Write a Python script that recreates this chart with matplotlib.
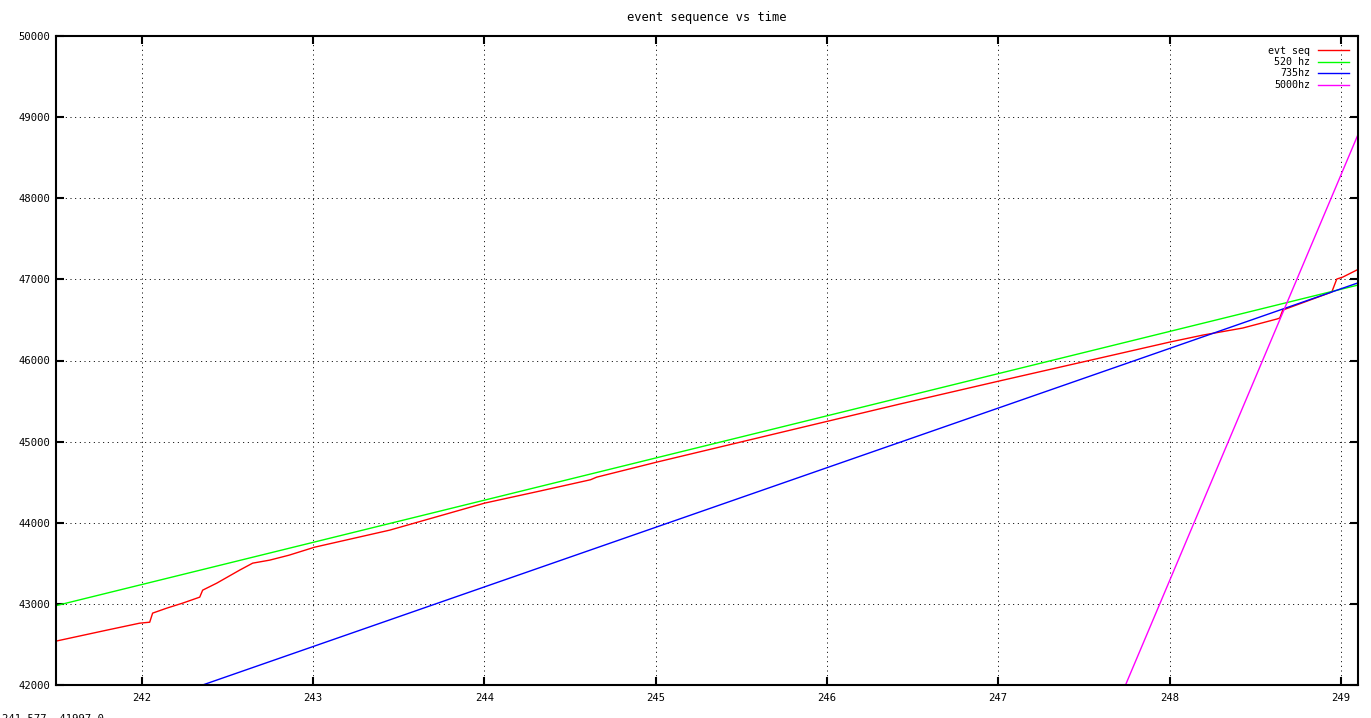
import matplotlib
matplotlib.use("Agg")
import matplotlib.pyplot as plt

# event sequence (time, sequence number)
evt_t = [241.498, 241.796, 241.988, 242.047, 242.064, 242.146, 242.239, 242.339,
         242.356, 242.438, 242.572, 242.648, 242.747, 242.86, 243.01, 243.448,
         244.002, 244.323, 244.62, 244.656, 245.006, 245.958, 246.425, 246.991,
         247.593, 248.001, 248.194, 248.427, 248.626, 248.643, 248.661, 248.947,
         248.976, 249.011, 249.093]
evt_seq = [42540, 42676, 42762, 42774, 42886, 42947, 43009, 43083,
           43169, 43255, 43416, 43502, 43539, 43600, 43699, 43909,
           44242, 44390, 44530, 44562, 44747, 45228, 45463, 45740,
           46030, 46227, 46313, 46400, 46511, 46523, 46622, 46844,
           47004, 47028, 47115]

# reference rate lines, endpoints
hz520_t = [241.5, 249.1]
hz520_y = [42978, 46930]
hz735_t = [241.5, 249.1]
hz735_y = [41371, 46957]
hz5000_t = [247.7, 249.1]
hz5000_y = [41785, 48785]

xticks = [242, 243, 244, 245, 246, 247, 248, 249]
yticks = [42000, 43000, 44000, 45000, 46000, 47000, 48000, 49000, 50000]

plt.rcParams["font.family"] = ["DejaVu Sans Mono", "DejaVu Sans"]
plt.rcParams["font.size"] = 7.2
plt.rcParams["lines.scale_dashes"] = False

fig = plt.figure(figsize=(13.71, 7.18), dpi=100)
ax = fig.add_axes([56 / 1371, 33 / 718, 1302 / 1371, 649 / 718])

ax.plot(evt_t, evt_seq, color="#ff0000", lw=1.0, label="evt seq")
ax.plot(hz520_t, hz520_y, color="#00ff00", lw=1.0, label="520 hz")
ax.plot(hz735_t, hz735_y, color="#0000ff", lw=1.0, label="735hz")
ax.plot(hz5000_t, hz5000_y, color="#ff00ff", lw=1.0, label="5000hz")

ax.set_xlim(241.5, 249.1)
ax.set_ylim(42000, 50000)
ax.set_xticks(xticks)
ax.set_yticks(yticks)
ax.set_xticklabels([str(v) for v in xticks])
ax.set_yticklabels([str(v) for v in yticks])

ax.grid(True, color="black", linestyle=(0, (0.72, 2.64)), linewidth=0.72)
ax.tick_params(direction="in", length=6, width=1.5, top=True, right=True,
               colors="black", labelsize=7.6)
ax.tick_params(axis="y", pad=4)
ax.tick_params(axis="x", pad=5.5)
for s in ax.spines.values():
    s.set_linewidth(1.5)

ax.set_title("event sequence vs time", pad=11)

ax.legend(loc="upper right", markerfirst=False, frameon=False,
          handlelength=3.1, handletextpad=0.7, labelspacing=0.15,
          borderpad=0, borderaxespad=0.95)

fig.text(2 / 1371, 4 / 718, "241.577, 41997.0", va="top", ha="left",
         fontsize=7.6)

fig.savefig("out.png", dpi=100)
